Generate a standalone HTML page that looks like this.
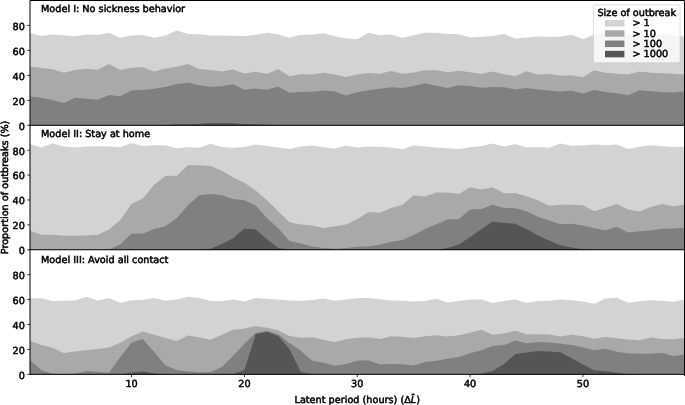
<!DOCTYPE html>
<html><head><meta charset="utf-8"><title>Proportion of outbreaks</title>
<style>
html,body{margin:0;padding:0;background:#fff;}
svg{display:block;}
text{font-family:"DejaVu Sans","Liberation Sans",sans-serif;font-size:9.7px;fill:#000;stroke:#000;stroke-width:0.5px;text-rendering:geometricPrecision;}
</style></head><body>
<svg width="685" height="405" viewBox="0 0 685 405">
<rect width="685" height="405" fill="#fff"/>

<g>
<polygon fill="#d3d3d3" points="30.00,125.30 30.00,32.93 41.28,35.92 52.57,34.43 63.85,35.18 75.14,36.16 86.42,34.43 97.71,34.93 108.99,32.70 120.28,37.66 131.56,35.42 142.84,34.93 154.13,37.66 165.41,35.42 176.70,30.45 187.98,33.93 199.27,34.18 210.55,35.42 221.84,35.42 233.12,35.67 244.41,35.92 255.69,34.68 266.97,32.70 278.26,34.43 289.54,37.66 300.83,34.68 312.11,34.68 323.40,33.18 334.68,36.16 345.97,38.40 357.25,39.14 368.53,32.70 379.82,35.18 391.10,34.43 402.39,37.66 413.67,35.18 424.96,32.70 436.24,32.70 447.53,33.93 458.81,34.18 470.09,37.41 481.38,36.66 492.66,35.92 503.95,33.93 515.23,38.40 526.52,37.41 537.80,36.41 549.09,36.91 560.37,36.41 571.66,34.68 582.94,39.14 594.22,34.52 605.51,34.02 616.79,33.65 628.08,34.52 639.36,34.02 650.65,35.52 661.93,34.02 673.22,35.14 684.50,36.51 684.50,125.30"/>
<polygon fill="#a9a9a9" points="30.00,125.30 30.00,66.69 41.28,67.93 52.57,69.17 63.85,72.64 75.14,69.91 86.42,68.67 97.71,69.66 108.99,63.96 120.28,69.91 131.56,67.68 142.84,67.19 154.13,71.40 165.41,68.42 176.70,66.69 187.98,63.96 199.27,68.92 210.55,69.91 221.84,71.40 233.12,69.42 244.41,73.39 255.69,71.65 266.97,73.64 278.26,69.17 289.54,76.37 300.83,73.89 312.11,74.62 323.40,72.64 334.68,74.62 345.97,77.10 357.25,74.62 368.53,72.89 379.82,73.64 391.10,70.91 402.39,73.64 413.67,72.39 424.96,70.16 436.24,70.16 447.53,72.14 458.81,70.66 470.09,72.14 481.38,73.89 492.66,71.40 503.95,74.14 515.23,76.37 526.52,71.16 537.80,74.62 549.09,73.64 560.37,75.87 571.66,75.37 582.94,77.35 594.22,70.16 605.51,72.64 616.79,73.64 628.08,74.62 639.36,71.40 650.65,72.64 661.93,73.14 673.22,73.64 684.50,74.62 684.50,125.30"/>
<polygon fill="#808080" points="30.00,125.30 30.00,96.47 41.28,97.70 52.57,100.19 63.85,102.92 75.14,97.70 86.42,98.70 97.71,99.69 108.99,94.97 120.28,96.22 131.56,90.26 142.84,90.01 154.13,88.78 165.41,87.03 176.70,84.06 187.98,82.81 199.27,85.30 210.55,86.79 221.84,86.29 233.12,84.31 244.41,89.76 255.69,88.53 266.97,89.76 278.26,86.54 289.54,92.74 300.83,91.99 312.11,91.74 323.40,90.51 334.68,91.51 345.97,95.47 357.25,92.24 368.53,90.26 379.82,88.78 391.10,87.28 402.39,88.03 413.67,86.04 424.96,83.31 436.24,85.80 447.53,88.03 458.81,85.30 470.09,86.04 481.38,87.78 492.66,87.03 503.95,87.28 515.23,89.51 526.52,88.03 537.80,89.51 549.09,90.51 560.37,91.51 571.66,90.76 582.94,93.49 594.22,90.01 605.51,91.99 616.79,93.24 628.08,95.22 639.36,90.26 650.65,91.26 661.93,91.99 673.22,92.49 684.50,91.51 684.50,125.30"/>
<polygon fill="#555555" points="30.00,125.30 30.00,125.30 41.28,125.30 52.57,125.30 63.85,125.30 75.14,125.30 86.42,125.30 97.71,125.30 108.99,125.30 120.28,125.30 131.56,125.30 142.84,125.30 154.13,125.30 165.41,125.30 176.70,124.30 187.98,124.30 199.27,123.80 210.55,123.06 221.84,123.06 233.12,123.30 244.41,124.05 255.69,124.30 266.97,124.68 278.26,125.30 289.54,125.30 300.83,125.30 312.11,125.30 323.40,125.30 334.68,125.30 345.97,125.30 357.25,125.30 368.53,125.30 379.82,125.30 391.10,125.30 402.39,125.30 413.67,125.30 424.96,125.30 436.24,125.30 447.53,125.30 458.81,125.30 470.09,125.30 481.38,125.30 492.66,125.30 503.95,125.30 515.23,125.30 526.52,125.30 537.80,125.30 549.09,125.30 560.37,125.30 571.66,125.30 582.94,125.30 594.22,125.30 605.51,125.30 616.79,125.30 628.08,125.30 639.36,125.30 650.65,125.30 661.93,125.30 673.22,125.30 684.50,125.30 684.50,125.30"/>
</g>
<g>
<polygon fill="#d3d3d3" points="30.00,249.75 30.00,144.07 41.28,147.61 52.57,143.26 63.85,146.51 75.14,147.61 86.42,146.51 97.71,146.25 108.99,146.51 120.28,147.34 131.56,142.98 142.84,145.98 154.13,145.17 165.41,145.17 176.70,148.15 187.98,147.34 199.27,147.87 210.55,143.81 221.84,147.06 233.12,147.87 244.41,147.06 255.69,144.62 266.97,145.98 278.26,147.61 289.54,148.96 300.83,146.51 312.11,145.43 323.40,147.34 334.68,148.69 345.97,145.43 357.25,147.61 368.53,146.51 379.82,146.79 391.10,147.61 402.39,149.23 413.67,145.43 424.96,146.51 436.24,147.61 447.53,148.15 458.81,148.96 470.09,147.34 481.38,145.98 492.66,143.53 503.95,146.51 515.23,144.07 526.52,147.61 537.80,147.06 549.09,147.87 560.37,143.53 571.66,145.70 582.94,145.17 594.22,144.62 605.51,145.17 616.79,144.62 628.08,148.96 639.36,146.79 650.65,145.17 661.93,146.25 673.22,147.06 684.50,146.79 684.50,249.75"/>
<polygon fill="#a9a9a9" points="30.00,249.75 30.00,230.44 41.28,234.79 52.57,234.79 63.85,235.87 75.14,235.87 86.42,235.60 97.71,234.79 108.99,229.62 120.28,220.12 131.56,204.10 142.84,198.39 154.13,184.81 165.41,176.12 176.70,175.85 187.98,165.25 199.27,165.25 210.55,166.08 221.84,170.69 233.12,177.48 244.41,182.64 255.69,190.52 266.97,200.30 278.26,211.16 289.54,222.29 300.83,224.46 312.11,225.55 323.40,227.99 334.68,226.37 345.97,224.46 357.25,219.30 368.53,211.97 379.82,212.79 391.10,207.90 402.39,204.63 413.67,195.13 424.96,196.49 436.24,192.41 447.53,192.41 458.81,194.05 470.09,187.25 481.38,189.43 492.66,187.25 503.95,193.24 515.23,192.96 526.52,196.22 537.80,200.30 549.09,205.72 560.37,204.63 571.66,204.63 582.94,205.18 594.22,211.16 605.51,207.63 616.79,204.10 628.08,209.52 639.36,211.43 650.65,207.08 661.93,204.10 673.22,206.27 684.50,204.63 684.50,249.75"/>
<polygon fill="#808080" points="30.00,249.75 30.00,249.75 41.28,249.75 52.57,249.75 63.85,249.75 75.14,249.75 86.42,249.75 97.71,249.75 108.99,249.45 120.28,244.56 131.56,233.43 142.84,233.70 154.13,229.08 165.41,226.37 176.70,218.21 187.98,205.18 199.27,195.13 210.55,194.05 221.84,195.13 233.12,198.94 244.41,200.30 255.69,205.46 266.97,217.95 278.26,228.27 289.54,241.03 300.83,243.48 312.11,246.46 323.40,248.09 334.68,248.64 345.97,248.09 357.25,246.73 368.53,246.46 379.82,244.84 391.10,241.85 402.39,239.95 413.67,235.06 424.96,229.08 436.24,224.19 447.53,219.57 458.81,219.04 470.09,209.52 481.38,208.99 492.66,204.63 503.95,207.90 515.23,208.16 526.52,211.16 537.80,216.86 549.09,220.40 560.37,224.19 571.66,223.65 582.94,225.55 594.22,228.27 605.51,230.17 616.79,226.91 628.08,232.62 639.36,231.26 650.65,230.44 661.93,228.81 673.22,228.54 684.50,227.73 684.50,249.75"/>
<polygon fill="#555555" points="30.00,249.75 30.00,249.75 41.28,249.75 52.57,249.75 63.85,249.75 75.14,249.75 86.42,249.75 97.71,249.75 108.99,249.75 120.28,249.75 131.56,249.75 142.84,249.75 154.13,249.75 165.41,249.75 176.70,249.75 187.98,249.75 199.27,249.75 210.55,248.64 221.84,244.02 233.12,238.32 244.41,228.54 255.69,229.62 266.97,239.13 278.26,248.09 289.54,249.75 300.83,249.75 312.11,249.75 323.40,249.75 334.68,249.75 345.97,249.75 357.25,249.75 368.53,249.75 379.82,249.75 391.10,249.75 402.39,249.75 413.67,249.75 424.96,249.75 436.24,249.75 447.53,248.06 458.81,244.56 470.09,236.96 481.38,229.35 492.66,221.48 503.95,223.10 515.23,223.65 526.52,229.08 537.80,235.60 549.09,240.49 560.37,245.37 571.66,247.54 582.94,249.18 594.22,249.75 605.51,249.75 616.79,249.75 628.08,249.75 639.36,249.75 650.65,249.75 661.93,249.75 673.22,249.75 684.50,249.75 684.50,249.75"/>
</g>
<g>
<polygon fill="#d3d3d3" points="30.00,374.35 30.00,298.18 41.28,298.18 52.57,300.91 63.85,300.66 75.14,300.43 86.42,296.70 97.71,300.43 108.99,297.95 120.28,302.66 131.56,300.18 142.84,299.93 154.13,297.95 165.41,300.66 176.70,299.43 187.98,296.70 199.27,297.95 210.55,300.91 221.84,301.16 233.12,299.43 244.41,301.41 255.69,297.95 266.97,298.68 278.26,299.43 289.54,300.43 300.83,300.66 312.11,299.93 323.40,298.43 334.68,300.66 345.97,299.43 357.25,298.18 368.53,297.95 379.82,299.18 391.10,300.43 402.39,300.66 413.67,301.41 424.96,300.91 436.24,298.68 447.53,302.41 458.81,300.91 470.09,299.43 481.38,299.43 492.66,302.90 503.95,300.91 515.23,299.43 526.52,302.90 537.80,300.91 549.09,300.66 560.37,299.43 571.66,300.18 582.94,301.41 594.22,303.65 605.51,298.43 616.79,297.70 628.08,302.66 639.36,301.16 650.65,300.18 661.93,300.66 673.22,301.66 684.50,299.43 684.50,374.35"/>
<polygon fill="#a9a9a9" points="30.00,374.35 30.00,340.87 41.28,345.08 52.57,347.81 63.85,353.03 75.14,351.54 86.42,350.30 97.71,349.06 108.99,347.56 120.28,342.85 131.56,336.15 142.84,331.44 154.13,334.67 165.41,337.89 176.70,341.12 187.98,335.41 199.27,337.15 210.55,339.63 221.84,334.67 233.12,329.71 244.41,328.46 255.69,325.98 266.97,327.71 278.26,330.19 289.54,335.91 300.83,337.64 312.11,337.15 323.40,339.63 334.68,342.12 345.97,339.13 357.25,337.64 368.53,337.15 379.82,338.89 391.10,336.15 402.39,336.65 413.67,337.89 424.96,336.15 436.24,335.16 447.53,336.40 458.81,335.16 470.09,332.68 481.38,329.71 492.66,334.67 503.95,333.42 515.23,330.69 526.52,334.17 537.80,334.17 549.09,334.42 560.37,336.40 571.66,334.67 582.94,336.15 594.22,338.64 605.51,336.90 616.79,338.14 628.08,339.38 639.36,340.37 650.65,337.39 661.93,338.89 673.22,339.13 684.50,337.89 684.50,374.35"/>
<polygon fill="#808080" points="30.00,374.35 30.00,359.97 41.28,370.15 52.57,373.63 63.85,374.11 75.14,373.63 86.42,370.90 97.71,371.63 108.99,372.63 120.28,356.99 131.56,342.60 142.84,338.89 154.13,352.03 165.41,365.18 176.70,369.90 187.98,371.39 199.27,372.13 210.55,371.88 221.84,366.92 233.12,355.76 244.41,343.85 255.69,332.68 266.97,330.94 278.26,334.17 289.54,343.35 300.83,350.79 312.11,360.72 323.40,362.70 334.68,365.68 345.97,363.95 357.25,360.72 368.53,360.22 379.82,364.44 391.10,363.95 402.39,364.20 413.67,365.43 424.96,361.95 436.24,360.72 447.53,358.74 458.81,356.99 470.09,353.28 481.38,350.30 492.66,346.08 503.95,345.08 515.23,340.62 526.52,343.35 537.80,342.12 549.09,342.60 560.37,343.85 571.66,345.08 582.94,347.56 594.22,350.30 605.51,348.81 616.79,351.79 628.08,353.53 639.36,353.77 650.65,353.77 661.93,352.78 673.22,356.01 684.50,354.51 684.50,374.35"/>
<polygon fill="#555555" points="30.00,374.35 30.00,374.35 41.28,374.35 52.57,374.35 63.85,374.35 75.14,374.35 86.42,374.35 97.71,374.35 108.99,374.35 120.28,374.35 131.56,372.63 142.84,371.39 154.13,373.38 165.41,374.35 176.70,374.35 187.98,374.35 199.27,374.35 210.55,374.35 221.84,374.35 233.12,373.88 244.41,369.90 255.69,334.17 266.97,331.69 278.26,335.91 289.54,349.34 300.83,371.88 312.11,374.35 323.40,374.35 334.68,374.35 345.97,374.35 357.25,374.35 368.53,374.35 379.82,374.35 391.10,374.35 402.39,374.35 413.67,374.35 424.96,374.35 436.24,374.35 447.53,374.35 458.81,374.35 470.09,374.35 481.38,373.38 492.66,370.90 503.95,363.95 515.23,354.02 526.52,352.53 537.80,351.04 549.09,351.54 560.37,352.28 571.66,358.24 582.94,364.44 594.22,370.15 605.51,371.15 616.79,372.63 628.08,373.88 639.36,374.35 650.65,374.35 661.93,374.35 673.22,374.35 684.50,374.35 684.50,374.35"/>
</g>
<path d="M30.0,374.35 V0.5 H684.5 V375.55 M684.5,374.35 H30.0 M30.0,125.3 H684.5 M30.0,249.75 H684.5" fill="none" stroke="#000" stroke-width="1" stroke-linecap="square"/>
<line x1="27.30" x2="30.0" y1="125.30" y2="125.30" stroke="#000" stroke-width="0.8"/>
<text x="24.90" y="129.70" text-anchor="end">0</text>
<line x1="27.30" x2="30.0" y1="100.34" y2="100.34" stroke="#000" stroke-width="0.8"/>
<text x="24.90" y="104.74" text-anchor="end">20</text>
<line x1="27.30" x2="30.0" y1="75.38" y2="75.38" stroke="#000" stroke-width="0.8"/>
<text x="24.90" y="79.78" text-anchor="end">40</text>
<line x1="27.30" x2="30.0" y1="50.42" y2="50.42" stroke="#000" stroke-width="0.8"/>
<text x="24.90" y="54.82" text-anchor="end">60</text>
<line x1="27.30" x2="30.0" y1="25.46" y2="25.46" stroke="#000" stroke-width="0.8"/>
<text x="24.90" y="29.86" text-anchor="end">80</text>
<text x="41.0" y="12.45">Model I: No sickness behavior</text>
<line x1="27.30" x2="30.0" y1="249.75" y2="249.75" stroke="#000" stroke-width="0.8"/>
<text x="24.90" y="254.15" text-anchor="end">0</text>
<line x1="27.30" x2="30.0" y1="224.86" y2="224.86" stroke="#000" stroke-width="0.8"/>
<text x="24.90" y="229.26" text-anchor="end">20</text>
<line x1="27.30" x2="30.0" y1="199.97" y2="199.97" stroke="#000" stroke-width="0.8"/>
<text x="24.90" y="204.37" text-anchor="end">40</text>
<line x1="27.30" x2="30.0" y1="175.08" y2="175.08" stroke="#000" stroke-width="0.8"/>
<text x="24.90" y="179.48" text-anchor="end">60</text>
<line x1="27.30" x2="30.0" y1="150.19" y2="150.19" stroke="#000" stroke-width="0.8"/>
<text x="24.90" y="154.59" text-anchor="end">80</text>
<text x="41.0" y="137.20">Model II: Stay at home</text>
<line x1="27.30" x2="30.0" y1="374.35" y2="374.35" stroke="#000" stroke-width="0.8"/>
<text x="24.90" y="378.75" text-anchor="end">0</text>
<line x1="27.30" x2="30.0" y1="349.43" y2="349.43" stroke="#000" stroke-width="0.8"/>
<text x="24.90" y="353.83" text-anchor="end">20</text>
<line x1="27.30" x2="30.0" y1="324.51" y2="324.51" stroke="#000" stroke-width="0.8"/>
<text x="24.90" y="328.91" text-anchor="end">40</text>
<line x1="27.30" x2="30.0" y1="299.59" y2="299.59" stroke="#000" stroke-width="0.8"/>
<text x="24.90" y="303.99" text-anchor="end">60</text>
<line x1="27.30" x2="30.0" y1="274.67" y2="274.67" stroke="#000" stroke-width="0.8"/>
<text x="24.90" y="279.07" text-anchor="end">80</text>
<text x="41.0" y="262.50">Model III: Avoid all contact</text>
<line x1="131.56" x2="131.56" y1="374.35" y2="377.25" stroke="#000" stroke-width="0.8"/>
<text x="131.56" y="387.25" text-anchor="middle">10</text>
<line x1="244.41" x2="244.41" y1="374.35" y2="377.25" stroke="#000" stroke-width="0.8"/>
<text x="244.41" y="387.25" text-anchor="middle">20</text>
<line x1="357.25" x2="357.25" y1="374.35" y2="377.25" stroke="#000" stroke-width="0.8"/>
<text x="357.25" y="387.25" text-anchor="middle">30</text>
<line x1="470.09" x2="470.09" y1="374.35" y2="377.25" stroke="#000" stroke-width="0.8"/>
<text x="470.09" y="387.25" text-anchor="middle">40</text>
<line x1="582.94" x2="582.94" y1="374.35" y2="377.25" stroke="#000" stroke-width="0.8"/>
<text x="582.94" y="387.25" text-anchor="middle">50</text>
<text x="357.25" y="403.1" text-anchor="middle">Latent period (hours) (Δ<tspan font-style="italic">L̂</tspan>)</text>
<text transform="translate(8.4,187.43) rotate(-90)" text-anchor="middle">Proportion of outbreaks (%)</text>
<rect x="593.5" y="4.8" width="86.6" height="57.9" rx="2" ry="2" fill="#fff" fill-opacity="0.8" stroke="#ccc" stroke-opacity="0.8" stroke-width="0.8"/>
<text x="636.8" y="16.2" text-anchor="middle">Size of outbreak</text>
<rect x="605" y="19.95" width="19.4" height="6.5" fill="#d3d3d3"/>
<text x="632.4" y="26.30">&gt; 1</text>
<rect x="605" y="30.25" width="19.4" height="6.5" fill="#a9a9a9"/>
<text x="632.4" y="36.60">&gt; 10</text>
<rect x="605" y="40.55" width="19.4" height="6.5" fill="#808080"/>
<text x="632.4" y="46.90">&gt; 100</text>
<rect x="605" y="50.85" width="19.4" height="6.5" fill="#555555"/>
<text x="632.4" y="57.20">&gt; 1000</text>
</svg></body></html>
